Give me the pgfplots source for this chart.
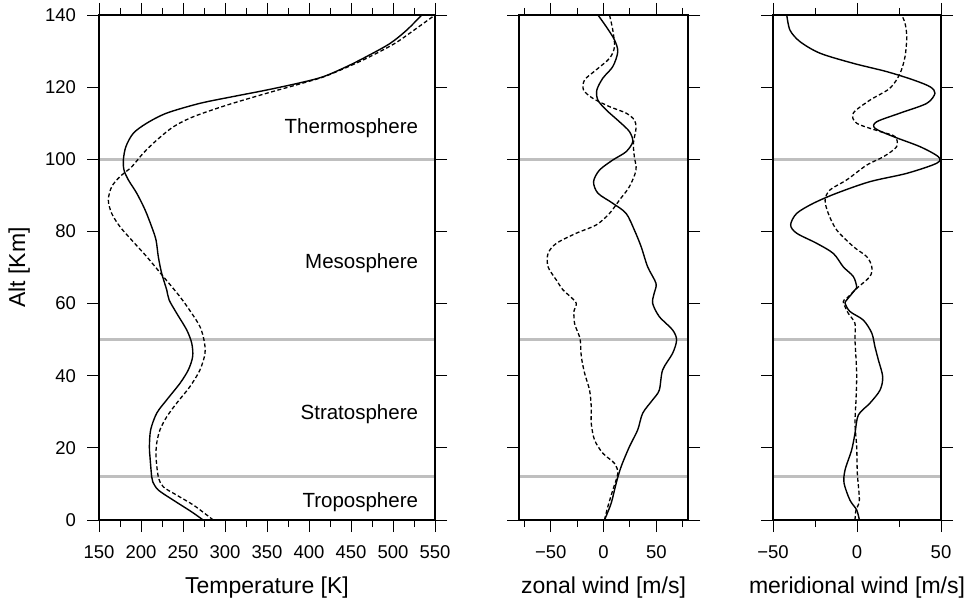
\documentclass[border=0pt]{standalone}
\usepackage{fontspec}
\setmainfont{Liberation Sans}
\usepackage{pgfplots}
\pgfplotsset{compat=1.18}
\newcommand\tl{\fontsize{18.5}{22}\selectfont}

\pgfplotsset{
  atmo/.style={
    scale only axis, height=505pt, ymin=0, ymax=140,
    ytick={0,20,...,140},
    anchor=south west,
    axis on top,
    tick align=outside,
    major tick length=12pt, minor tick length=7pt,
    every tick/.style={black, line width=0.9pt},
    axis line style={line width=2.8pt},
    tick label style={font=\tl},
    xticklabel style={anchor=base, yshift=-26pt},
    yticklabel style={anchor=east, xshift=-7.5pt},
    every axis x label/.style={at={(axis description cs:0.5,-0.1446)}, anchor=base,
      font=\fontsize{23}{27}\selectfont},
    every axis y label/.style={at={(axis description cs:-0.2202,0.5)}, rotate=90, anchor=base,
      font=\fontsize{23}{27}\selectfont},
  },
  zonelines/.style={draw=black!25, line width=3pt},
  solidprof/.style={black, line width=1.4pt, smooth, tension=0.5},
  dashprof/.style={black, line width=1.3pt, smooth, tension=0.5, dash pattern=on 4pt off 2.5pt},
}
\tikzset{layerlabel/.style={font=\fontsize{20.5}{24}\selectfont, anchor=base east, inner sep=0pt}}

\begin{document}
\begin{tikzpicture}

% ---------------- temperature ----------------
\begin{axis}[atmo, at={(99pt,80pt)}, width=336pt,
  xmin=150, xmax=550, xtick={150,200,...,550}, minor x tick num=1,
  xticklabels={\tl 150,\tl 200,\tl 250,\tl 300,\tl 350,\tl 400,\tl 450,\tl 500,\tl 550},
  yticklabels={\tl 0,\tl 20,\tl 40,\tl 60,\tl 80,\tl 100,\tl 120,\tl 140},
  xlabel={Temperature [K]}, ylabel={Alt [Km]}]
  \addplot[zonelines] coordinates {(150,12) (550,12)};
  \addplot[zonelines] coordinates {(150,50) (550,50)};
  \addplot[zonelines] coordinates {(150,100) (550,100)};
  \addplot[solidprof] coordinates {
    (274,0) (260,2.3) (238.5,5.5) (220.6,8.3) (214,10.6) (212.7,12)
    (210.7,17.5) (210,20.3) (211.5,25) (218.7,29.6) (230.6,33.3)
    (246.4,37.9) (256.3,41.6) (261.5,45.3) (260.4,49) (254.4,52.7)
    (242.5,57.3) (233.5,61) (230.6,63.8) (224.6,68.4) (220.6,73)
    (217.9,77.6) (212.7,81.3) (204.8,86) (194.9,90.6) (184.9,94.3)
    (179.8,97) (179,99.8) (182,103.5) (190.8,107.2) (206.8,110)
    (230.6,112.8) (270,115.5) (309.9,117.4) (349.6,119.2) (389.3,121.2)
    (417,122.9) (444.9,125.7) (468.7,128.5) (496.4,132.1) (516.3,135.8)
    (534.2,140)};
  \addplot[dashprof] coordinates {
    (286,0) (276,1.8) (262,4.2) (242.5,6.9) (226.5,9.2) (220.6,12)
    (217.9,17.5) (218.7,21.3) (222.6,25) (230.6,28.6) (242.5,32.4)
    (258.3,37) (270.2,41.6) (276.2,46.2) (275,49.9) (270.2,53.6)
    (260.4,57.3) (246.4,61.9) (226.5,67.5) (206.8,73) (188.9,77.6)
    (175,81.3) (165.1,85) (161.1,88.7) (165.1,92.4) (175,95.2)
    (188.9,97.9) (202.7,101.7) (218.7,105.3) (238.5,109) (262.3,111.8)
    (302,115) (349.6,118.3) (389.3,120.9) (418,122.9) (447,125.7)
    (473,128.5) (502,132.1) (525,135.8) (550,140)};
  \node[layerlabel] at (axis cs:530,107.2) {Thermosphere};
  \node[layerlabel] at (axis cs:530,69.8) {Mesosphere};
  \node[layerlabel] at (axis cs:530,28) {Stratosphere};
  \node[layerlabel] at (axis cs:530,3.5) {Troposphere};
\end{axis}

% ---------------- zonal wind ----------------
\begin{axis}[atmo, at={(519pt,80pt)}, width=169pt,
  xmin=-80, xmax=80, xtick={-50,0,50}, minor xtick={-75,-25,25,75},
  xticklabels={\tl −50,\tl 0,\tl 50}, yticklabels={,,,,,,,},
  xlabel={zonal wind [m/s]}]
  \addplot[zonelines] coordinates {(-80,12) (80,12)};
  \addplot[zonelines] coordinates {(-80,50) (80,50)};
  \addplot[zonelines] coordinates {(-80,100) (80,100)};
  \addplot[solidprof] coordinates {
    (0.9,0) (7.2,4.6) (12,10.2) (16.7,14.8) (24.5,20.3) (32.4,25)
    (37.1,29.6) (46.5,33.3) (52.8,36) (56,41.6) (65.4,46.2) (69.2,49.9)
    (65.4,52.7) (52.8,56.4) (46.5,60.1) (48.1,63) (49.7,65.6) (41.8,70.2)
    (35.6,75.8) (29.2,80.4) (21.4,85) (8.8,87.8) (-5.3,90.6) (-9.4,93.8)
    (-3.8,97) (8.8,99.8) (21.4,102.1) (27.7,104.9) (24.5,107.7)
    (15.1,110.4) (2.5,113.7) (-5.3,116.4) (-6.3,119.2) (-0.6,122.5)
    (8.8,125.7) (13.5,129.8) (10.4,133.1) (2.5,136.8) (-5.3,140)};
  \addplot[dashprof] coordinates {
    (0.9,0) (4.1,3.7) (8.8,8.3) (13.5,12.9) (10.4,15.7) (-0.6,18.5)
    (-8.5,22.2) (-11.6,26.8) (-11.6,31.4) (-13.2,36) (-17.9,40.7)
    (-21,45.3) (-22,49.9) (-24,51.8) (-27.4,54.5) (-28,57.9) (-25.8,60.1)
    (-32,62.1) (-38.4,63.8) (-44.6,66.5) (-52.5,70.2) (-52.5,73.9)
    (-44.6,76.7) (-25.8,79.5) (-6.9,81.8) (5.7,85) (15.1,88.7)
    (24.5,92.4) (30.8,97) (29.2,100.7) (28.3,104.4) (30.8,108.6)
    (29.2,110.9) (21.4,112.8) (5.7,114.6) (-10.1,116.9) (-18.9,119.2)
    (-17.9,122) (-6.9,124.8) (5.7,128) (10.4,131.2) (8.8,135.8) (5.7,140)};
\end{axis}

% ---------------- meridional wind ----------------
\begin{axis}[atmo, at={(773pt,80pt)}, width=168pt,
  xmin=-50, xmax=50, xtick={-50,0,50}, minor xtick={-25,25},
  xticklabels={\tl −50,\tl 0,\tl 50}, yticklabels={,,,,,,,},
  xlabel={meridional wind [m/s]}]
  \addplot[zonelines] coordinates {(-50,12) (50,12)};
  \addplot[zonelines] coordinates {(-50,50) (50,50)};
  \addplot[zonelines] coordinates {(-50,100) (50,100)};
  \addplot[solidprof] coordinates {
    (1.4,0) (-0.2,2.8) (-4.2,5.5) (-7.7,10.2) (-7.1,13.9) (-3.2,19.4)
    (-1.2,24) (0.8,29.1) (7.7,32.4) (13.7,36) (15.3,39.7) (12.7,44.4)
    (10.7,48) (8.8,51.8) (3.8,55.4) (-4.2,57.8) (-7.1,60.1) (-6.1,61)
    (-1.2,63.8) (-0.2,64.7) (-2.2,67.5) (-8.2,70.2) (-14.1,73.9)
    (-24,76.7) (-35.9,79.5) (-39.5,81.8) (-35.9,85) (-26,87.8)
    (-12.1,90.6) (7.7,93.8) (29.6,96.1) (47.4,98.9) (48.4,100.7)
    (37.5,103.5) (21.6,106.3) (10.7,108.6) (11.7,110.4) (25.6,112.8)
    (41.5,115.5) (46.4,118.3) (43.5,120.1) (33.5,122) (17.7,124.3)
    (-2.2,126.6) (-22,129.4) (-33.9,132.6) (-39.9,135.8) (-41.8,140)};
  \addplot[dashprof] coordinates {
    (-1.2,0) (-0.6,2.8) (1.4,5.5) (0.2,12.9) (-0.2,20.3) (-1.2,26.8)
    (-0.6,33.3) (-0.2,40.7) (-1.2,49.9) (-1.2,54.5) (-5.2,57.3)
    (-8.2,60.5) (-6.1,61.5) (-0.2,64.2) (7.7,67.5) (8.8,70.2) (5.8,73)
    (-2.2,75.8) (-12.1,80.4) (-17.1,85) (-19,88.7) (-16.1,91.5)
    (-6.1,94.3) (5.8,98.4) (15.7,100.7) (23.6,103.5) (22.6,106.3)
    (13.7,107.7) (-0.2,110) (-2.2,112.8) (7.7,116.4) (19.6,119.7)
    (25.6,123.8) (28.6,128.5) (29.6,134) (28.6,137.7) (26.6,140)};
\end{axis}

\pgfresetboundingbox
\path (0,0) rectangle (976pt,600pt);
\end{tikzpicture}
\end{document}
